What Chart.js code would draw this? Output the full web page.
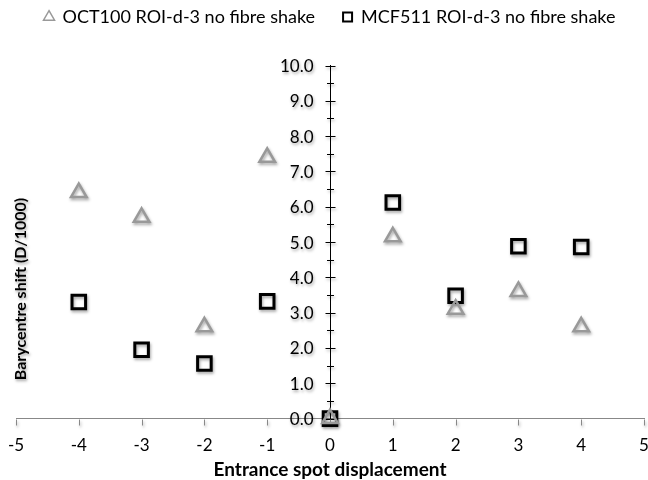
<!DOCTYPE html>
<html>
<head>
<meta charset="utf-8">
<script src="https://cdn.jsdelivr.net/npm/chart.js@4.4.0/dist/chart.umd.min.js"></script>
<style>
  html, body { margin: 0; padding: 0; background: #fff; }
  #wrap { width: 648px; height: 480px; }
</style>
</head>
<body>
<div id="wrap"><canvas id="c" width="648" height="480"></canvas></div>
<script>
const displacement = [-4, -3, -2, -1, 0, 1, 2, 3, 4];
const oct100 = [6.4, 5.7, 2.6, 7.4, 0.0, 5.15, 3.1, 3.6, 2.6];
const mcf511 = [3.3, 1.95, 1.56, 3.32, 0.0, 6.12, 3.48, 4.88, 4.86];
const seriesNames = ['OCT100 ROI-d-3 no fibre shake', 'MCF511 ROI-d-3 no fibre shake'];
const xTitle = 'Entrance spot displacement';
const yTitle = 'Barycentre shift (D/1000)';

const FONT = 'Lato, "Open Sans", sans-serif';

const toPts = (ys) => displacement.map((x, i) => ({ x: x, y: ys[i] }));

const shadowPlugin = {
  id: 'shadow',
  beforeDatasetsDraw(chart) {
    const ctx = chart.ctx;
    ctx.save();
    ctx.shadowColor = 'rgba(0,0,0,0.35)';
    ctx.shadowBlur = 3;
    ctx.shadowOffsetX = 1;
    ctx.shadowOffsetY = 2;
  },
  afterDatasetsDraw(chart) {
    chart.ctx.restore();
  }
};

const axisDecor = {
  id: 'axisDecor',
  beforeDatasetsDraw(chart) {
    const ctx = chart.ctx;
    const xs = chart.scales.x, ys = chart.scales.y;
    const ax = Math.round(xs.getPixelForValue(0)) + 0.5;
    const bottom = Math.round(ys.getPixelForValue(0)) + 0.5;
    ctx.save();
    // y axis crossing ticks (major + minor)
    ctx.strokeStyle = '#000';
    ctx.lineWidth = 1;
    for (let v = 0; v <= 10.0001; v += 0.5) {
      const py = Math.round(ys.getPixelForValue(v)) + 0.5;
      const major = Math.abs(v - Math.round(v)) < 1e-6;
      const L = major ? 5 : 3.5;
      ctx.beginPath();
      ctx.moveTo(ax - L, py);
      ctx.lineTo(ax + L, py);
      ctx.stroke();
    }
    // x axis tick marks (downward)
    ctx.strokeStyle = '#888';
    xs.ticks.forEach(t => {
      const px = Math.round(xs.getPixelForValue(t.value)) + 0.5;
      ctx.beginPath();
      ctx.moveTo(px, bottom);
      ctx.lineTo(px, bottom + 6);
      ctx.stroke();
    });
    // y tick labels, left of the axis
    ctx.fillStyle = '#000';
    ctx.font = '17px ' + FONT;
    ctx.textAlign = 'right';
    ctx.textBaseline = 'middle';
    ys.ticks.forEach(t => {
      const py = ys.getPixelForValue(t.value);
      ctx.fillText(t.label, ax - 17, py + 1);
    });
    // y axis title
    ctx.font = 'bold 16px ' + FONT;
    ctx.textAlign = 'center';
    ctx.translate(21, 289);
    ctx.rotate(-Math.PI / 2);
    ctx.fillText(yTitle, 0, 0);
    ctx.restore();
  }
};

new Chart(document.getElementById('c'), {
  type: 'scatter',
  data: {
    datasets: [
      {
        label: seriesNames[0],
        data: toPts(oct100),
        pointStyle: 'triangle',
        pointRadius: 9,
        pointHoverRadius: 9,
        pointBorderWidth: 2.5,
        borderColor: '#999999',
        backgroundColor: 'rgba(255,255,255,0)',
        pointBackgroundColor: 'rgba(255,255,255,0)',
        clip: false
      },
      {
        label: seriesNames[1],
        data: toPts(mcf511),
        pointStyle: 'rect',
        pointRadius: 9.6,
        pointHoverRadius: 9.6,
        pointBorderWidth: 3,
        borderColor: '#000000',
        backgroundColor: 'rgba(255,255,255,0)',
        pointBackgroundColor: 'rgba(255,255,255,0)',
        clip: false
      }
    ]
  },
  options: {
    responsive: false,
    animation: false,
    events: [],
    layout: { autoPadding: false, padding: { top: -20, bottom: 0, left: 16, right: 4 } },
    plugins: {
      tooltip: { enabled: false },
      subtitle: {
        display: true,
        text: '',
        weight: 500,
        font: { size: 1, lineHeight: 1 },
        padding: { top: 0, bottom: 28.5 }
      },
      legend: {
        position: 'top',
        align: 'center',
        labels: {
          usePointStyle: true,
          boxWidth: 9,
          boxHeight: 9,
          padding: 28,
          color: '#000',
          font: { family: FONT, size: 18 },
          generateLabels(chart) {
            const items = Chart.defaults.plugins.legend.labels.generateLabels(chart);
            items.forEach((it, i) => { it.lineWidth = i === 0 ? 1.5 : 2; it.fillStyle = 'rgba(0,0,0,0)'; });
            return items;
          }
        }
      }
    },
    scales: {
      x: {
        type: 'linear',
        min: -5, max: 5,
        afterFit(scale) { scale.paddingLeft = 0; scale.paddingRight = 0; },
        ticks: { stepSize: 1, color: '#000', font: { family: FONT, size: 17 }, padding: 0 },
        grid: { drawOnChartArea: false, drawTicks: true, tickLength: 17, color: 'rgba(0,0,0,0)', tickColor: 'rgba(0,0,0,0)' },
        border: { color: '#888', width: 1 },
        title: { display: true, text: xTitle, color: '#000', font: { family: FONT, size: 19, weight: 'bold', lineHeight: 1.0 }, padding: { top: 4, bottom: 1 } }
      },
      y: {
        type: 'linear',
        min: 0, max: 10,
        position: { x: 0 },
        afterFit(scale) { scale.paddingLeft = 0; scale.paddingRight = 0; },
        ticks: { stepSize: 1, display: false, callback: (v) => Number(v).toFixed(1) },
        grid: { drawOnChartArea: false, drawTicks: false },
        border: { color: '#000', width: 1 }
      }
    }
  },
  plugins: [shadowPlugin, axisDecor]
});
</script>
</body>
</html>
